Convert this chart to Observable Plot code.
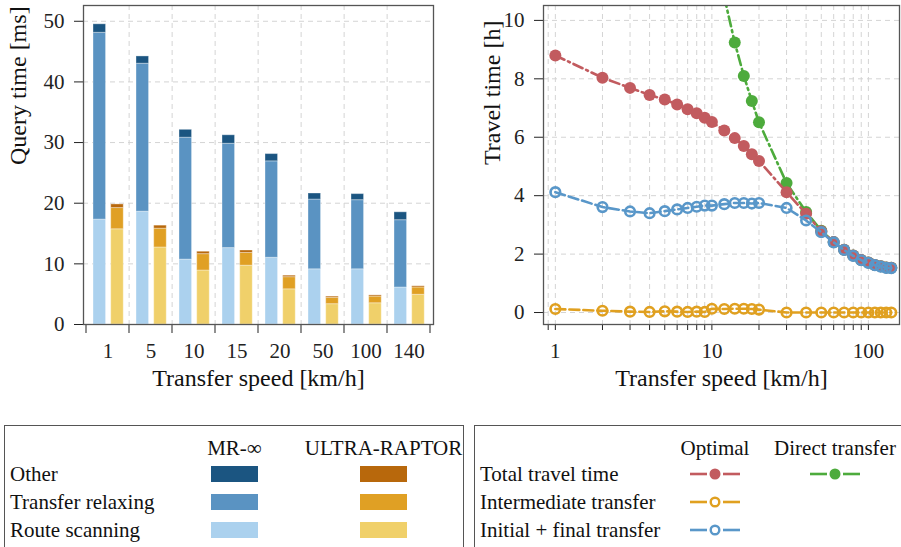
<!DOCTYPE html>
<html><head><meta charset="utf-8">
<script src="https://cdn.jsdelivr.net/npm/d3@7"></script>
<script src="https://cdn.jsdelivr.net/npm/@observablehq/plot@0.6"></script>
<style>
body{margin:0;background:#fff;font-family:"Liberation Serif","Times New Roman",serif;}
#wrap{position:relative;width:901px;height:547px;overflow:hidden;background:#fff;}
#left{position:absolute;left:0;top:0;}
#right{position:absolute;left:470px;top:0;}
#left svg, #right svg{font-size:21px;}
#left svg text, #right svg text{font-family:"Liberation Serif","Times New Roman",serif !important;}
.box{position:absolute;border:1.5px solid #555;border-bottom:none;box-sizing:border-box;}
.t{position:absolute;font-size:21px;line-height:1;white-space:nowrap;color:#111;transform:translateY(-50%);}
.h{transform:translate(-50%,-50%);}
.sw{position:absolute;height:16px;}
.sym{position:absolute;}
</style></head>
<body><div id="wrap"><div id="left"></div><div id="right"></div><div id="legend"></div></div>
<script>
// ---------------- data: query time (left chart) ----------------
const speeds = ["1","5","10","15","20","50","100","140"];
const methods = ["MR-∞","ULTRA-RAPTOR"];
const parts = ["Route scanning","Transfer relaxing","Other"];
const mrRoute    = [17.3,18.6,10.7,12.6,11.0,9.1,9.1,6.1];
const mrTransfer = [30.8,24.4,20.1,17.2,15.9,11.5,11.4,11.1];
const mrOther    = [1.4,1.2,1.3,1.4,1.2,1.0,1.0,1.3];
const ultraRoute    = [15.7,12.7,8.9,9.7,5.8,3.35,3.5,4.9];
const ultraTransfer = [3.5,3.1,2.7,2.1,2.0,1.05,1.1,1.2];
const ultraOther    = [0.6,0.5,0.4,0.4,0.25,0.2,0.2,0.2];
const mrColors    = ["#abd1ee","#5a93c2","#1b5581"];
const ultraColors = ["#f0d06a","#e0a024","#b8680c"];
const queryTicks = [0,10,20,30,40,50];

// ---------------- data: travel time (right chart) ----------------
const tSpeed = [1,2,3,4,5,6,7,8,9,10,12,14,16,18,20,30,40,50,60,70,80,90,100,110,120,130,140];
const totalOptimal = [8.80,8.04,7.69,7.45,7.29,7.12,6.96,6.82,6.67,6.52,6.23,5.97,5.70,5.42,5.19,4.12,3.38,2.78,2.41,2.15,1.95,1.80,1.71,1.63,1.58,1.54,1.53];
const intermediate = [0.12,0.06,0.03,0.02,0.04,0.03,0.02,0.03,0.02,0.13,0.12,0.13,0.13,0.12,0.10,0.0,0.0,0,0,0,0,0,0,0,0,0,0];
const initialFinal = [4.12,3.61,3.46,3.40,3.47,3.53,3.58,3.62,3.66,3.66,3.71,3.75,3.75,3.73,3.75,3.58,3.15,2.75,2.40,2.14,1.94,1.79,1.70,1.62,1.57,1.53,1.52];
const directSpeed = [12,14,16,18,20,30,40,50,60,70,80,90,100,110,120,130,140];
const directTotal = [10.8,9.24,8.10,7.24,6.51,4.43,3.44,2.80,2.41,2.15,1.95,1.80,1.71,1.63,1.58,1.54,1.53];
const logTicks = [0.9,1,2,3,4,5,6,7,8,9,10,20,30,40,50,60,70,80,90,100];
const logLabels = [1,10,100];
const travelTicks = [0,2,4,6,8,10];
const seriesNames = ["Total travel time","Intermediate transfer","Initial + final transfer"];
const colRed = "#c25b5f", colGreen = "#4dab3c", colBlue = "#5997c9", colOrange = "#e0a020";

// ---------------- left chart ----------------
const keys = [], keyColors = [];
methods.forEach((m, mi) => parts.forEach((p, pi) => { keys.push(m + "|" + p); keyColors.push(mi ? ultraColors[pi] : mrColors[pi]); }));
function rows(m, arrs) {
  const out = [];
  speeds.forEach((s, i) => parts.forEach((p, pi) => out.push({speed: s, key: m + "|" + p, v: arrs[pi][i]})));
  return out;
}
const mrRows = rows(methods[0], [mrRoute, mrTransfer, mrOther]);
const ultraRows = rows(methods[1], [ultraRoute, ultraTransfer, ultraOther]);

const W1 = 470, H = 400, ml1 = 83, mr1 = 37, mt = 5, mb = 76;
const bw = (W1 - ml1 - mr1) / speeds.length;
const gridStyle = {stroke: "#d4d4d4", strokeDasharray: "5,4", strokeWidth: 1};
const FONT = '"Liberation Serif", "Times New Roman", serif';
const baseStyle = {fontFamily: FONT, fontSize: "21px", color: "#222", background: "white", overflow: "visible"};
const barEdge = {stroke: "white", strokeOpacity: 0.35, strokeWidth: 1};

const left = Plot.plot({
  width: W1, height: H, marginLeft: ml1, marginRight: mr1, marginTop: mt, marginBottom: mb,
  style: baseStyle,
  x: {domain: speeds, padding: 0, tickSize: 0, tickPadding: 19, label: null},
  y: {domain: [0, 52.6], ticks: queryTicks, tickSize: 9, tickPadding: 10, label: null},
  color: {domain: keys, range: keyColors},
  marks: [
    Plot.ruleY(queryTicks.slice(1), gridStyle),
    Plot.ruleX(speeds.slice(1), {x: d => d, dx: -bw / 2, ...gridStyle}),
    Plot.barY(mrRows, Plot.stackY({x: "speed", y: "v", fill: "key", insetLeft: 7, insetRight: 23.45, ...barEdge})),
    Plot.barY(ultraRows, Plot.stackY({x: "speed", y: "v", fill: "key", insetLeft: 24.7, insetRight: 5.75, ...barEdge})),
    Plot.frame({stroke: "#555", strokeWidth: 1.3}),
    Plot.text(["Query time [ms]"], {text: d => d, frameAnchor: "left", dx: -65, rotate: -90, fontSize: 24, fill: "#111"}),
    Plot.text(["Transfer speed [km/h]"], {text: d => d, frameAnchor: "bottom", dy: 61, fontSize: 24, fill: "#111"})
  ]
});
document.getElementById("left").appendChild(left);
// group boundary ticks below the frame, placed with the plot's own x/y scales
(function () {
  const xs = left.scale("x"), ys = left.scale("y");
  const y0 = ys.apply(0);
  const bounds = speeds.map(s => xs.apply(s));
  bounds.push(xs.apply(speeds[speeds.length - 1]) + xs.bandwidth);
  const g = d3.select(left).append("g").attr("stroke", "#555").attr("stroke-width", 1.3);
  bounds.forEach(x => g.append("line").attr("x1", x).attr("x2", x).attr("y1", y0).attr("y2", y0 + 9));
})();

// ---------------- right chart ----------------
const totalRows = tSpeed.map((s, i) => ({s, v: totalOptimal[i]}));
const interRows = tSpeed.map((s, i) => ({s, v: intermediate[i]}));
const initRows = tSpeed.map((s, i) => ({s, v: initialFinal[i]}));
const directRows = directSpeed.map((s, i) => ({s, v: directTotal[i]}));
const W2 = 431, ml2 = 73, mr2 = 2;
const lineW = 2.6;
const right = Plot.plot({
  width: W2, height: H, marginLeft: ml2, marginRight: mr2, marginTop: mt, marginBottom: mb,
  style: baseStyle,
  x: {type: "log", domain: [0.84, 158], ticks: logTicks, tickFormat: d => logLabels.includes(d) ? String(d) : "", tickSize: 6, tickPadding: 13, label: null},
  y: {domain: [-0.41, 10.51], ticks: travelTicks, tickSize: 9, tickPadding: 10, label: null},
  marks: [
    Plot.ruleY(travelTicks, gridStyle),
    Plot.ruleX(logTicks, gridStyle),
    Plot.line(directRows, {x: "s", y: "v", stroke: colGreen, strokeWidth: lineW, strokeDasharray: "10,4,2,4", clip: true}),
    Plot.dot(directRows, {x: "s", y: "v", fill: colGreen, r: 6, clip: true}),
    Plot.line(totalRows, {x: "s", y: "v", stroke: colRed, strokeWidth: lineW, strokeDasharray: "10,4,2,4"}),
    Plot.dot(totalRows, {x: "s", y: "v", fill: colRed, r: 6}),
    Plot.line(interRows, {x: "s", y: "v", stroke: colOrange, strokeWidth: lineW, strokeDasharray: "10,4"}),
    Plot.dot(interRows, {x: "s", y: "v", stroke: colOrange, fill: "none", strokeWidth: 2.6, r: 4.8}),
    Plot.line(initRows, {x: "s", y: "v", stroke: colBlue, strokeWidth: lineW, strokeDasharray: "10,4"}),
    Plot.dot(initRows, {x: "s", y: "v", stroke: colBlue, fill: "none", strokeWidth: 2.6, r: 4.8}),
    Plot.frame({stroke: "#555", strokeWidth: 1.3}),
    Plot.text(["Travel time [h]"], {text: d => d, frameAnchor: "left", dx: -51, rotate: -90, fontSize: 24, fill: "#111"}),
    Plot.text(["Transfer speed [km/h]"], {text: d => d, frameAnchor: "bottom", dy: 61, fontSize: 24, fill: "#111"})
  ]
});
document.getElementById("right").appendChild(right);

// ---------------- legends ----------------
const leg = document.getElementById("legend");
function el(cls, css, text) {
  const d = document.createElement("div");
  d.className = cls; d.style.cssText = css;
  if (text != null) d.textContent = text;
  leg.appendChild(d); return d;
}
el("box", "left:4px;top:425px;width:460px;height:130px;");
el("box", "left:474px;top:425px;width:440px;height:130px;");
const rowY = [474, 502, 530];
const headY = 448;
// left legend: rows top-to-bottom are Other, Transfer relaxing, Route scanning
const legParts = parts.slice().reverse();
const swX = [211, 360];
methods.forEach((m, mi) => el("t h", `left:${swX[mi] + 23.5}px;top:${headY}px;`, m));
legParts.forEach((p, ri) => {
  el("t", `left:10px;top:${rowY[ri]}px;`, p);
  const pi = parts.indexOf(p);
  el("sw", `left:${swX[0]}px;top:${rowY[ri] - 8}px;width:47px;background:${mrColors[pi]};`);
  el("sw", `left:${swX[1]}px;top:${rowY[ri] - 8}px;width:47px;background:${ultraColors[pi]};`);
});
// right legend
const symX = [715, 835];
["Optimal", "Direct transfer"].forEach((h, i) => el("t h", `left:${symX[i]}px;top:${headY}px;`, h));
seriesNames.forEach((n, ri) => el("t", `left:480px;top:${rowY[ri]}px;`, n));
function sym(cx, cy, color, filled) {
  const d = el("sym", `left:${cx - 26}px;top:${cy - 8}px;width:52px;height:16px;`);
  const circ = filled
    ? `<circle cx="26" cy="8" r="5.5" fill="${color}"/>`
    : `<circle cx="26" cy="8" r="4.3" fill="white" stroke="${color}" stroke-width="2.4"/>`;
  d.innerHTML = `<svg width="52" height="16"><line x1="1" x2="18" y1="8" y2="8" stroke="${color}" stroke-width="2.6"/><line x1="34" x2="51" y1="8" y2="8" stroke="${color}" stroke-width="2.6"/>${circ}</svg>`;
}
sym(symX[0], rowY[0], colRed, true);
sym(symX[1], rowY[0], colGreen, true);
sym(symX[0], rowY[1], colOrange, false);
sym(symX[0], rowY[2], colBlue, false);
</script></body></html>
